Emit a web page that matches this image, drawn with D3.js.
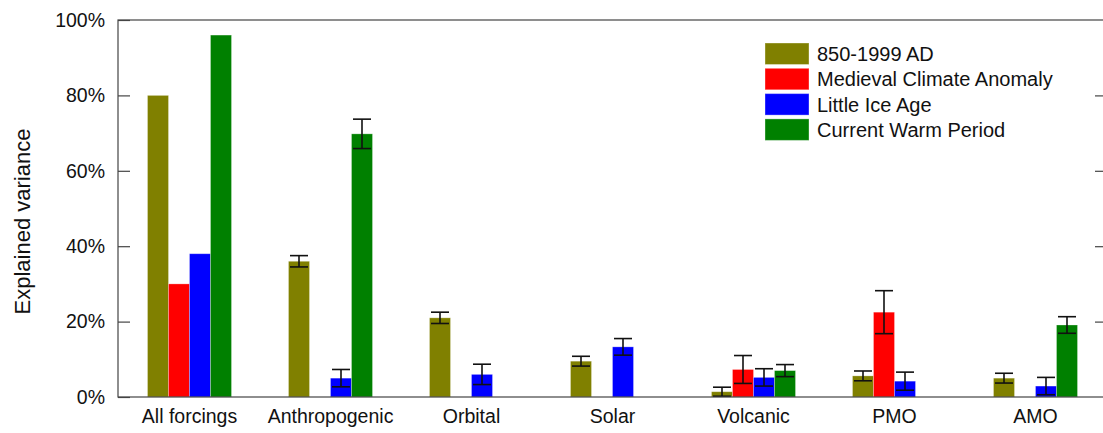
<!DOCTYPE html>
<html>
<head>
<meta charset="utf-8">
<script src="https://cdn.jsdelivr.net/npm/d3@7"></script>
<style>
  body { margin: 0; background: #fff; }
  svg { font-family: "Liberation Sans", Arial, sans-serif; }
</style>
</head>
<body>
<svg id="drawing_region"></svg>
<script>
// 値は図から目で読んだもの (null = 棒なし)
var categories = ['All forcings', 'Anthropogenic', 'Orbital', 'Solar', 'Volcanic', 'PMO', 'AMO'];
var seriesNames = ['850-1999 AD', 'Medieval Climate Anomaly', 'Little Ice Age', 'Current Warm Period'];
var seriesColors = ['#808000', '#ff0000', '#0000ff', '#008000'];

var fullPeriod  = [80, 36,   21,   9.5,  1.4, 5.6,  5.0];
var medieval    = [30, null, null, null, 7.3, 22.5, null];
var littleIce   = [38, 5.0,  6.0,  13.3, 5.2, 4.2,  2.9];
var currentWarm = [96, 69.8, null, null, 7.0, null, 19.1];

var fullPeriodErr  = [null, 1.5,  1.5,  1.3,  1.2, 1.3, 1.3];
var medievalErr    = [null, null, null, null, 3.7, 5.7, null];
var littleIceErr   = [null, 2.3,  2.7,  2.2,  2.3, 2.4, 2.3];
var currentWarmErr = [null, 3.9,  null, null, 1.6, null, 2.2];

var yTicks = [0, 20, 40, 60, 80, 100];

var values = [fullPeriod, medieval, littleIce, currentWarm];
var errors = [fullPeriodErr, medievalErr, littleIceErr, currentWarmErr];

var data = [];
categories.forEach((c, ci) => {
    seriesNames.forEach((s, si) => {
        if (values[si][ci] != null) {
            data.push({cat: c, series: s, value: values[si][ci], err: errors[si][ci], color: seriesColors[si]});
        }
    });
});

var config = {
    parent: '#drawing_region',
    width: 1103,
    height: 433,
    margin: {top: 20, right: -4, bottom: 36, left: 118}
};

var svg = d3.select(config.parent)
    .attr('width', config.width)
    .attr('height', config.height);

var inner_width = config.width - config.margin.left - config.margin.right;
var inner_height = config.height - config.margin.top - config.margin.bottom;

var chart = svg.append('g')
    .attr('transform', `translate(${config.margin.left}, ${config.margin.top})`);

var xscale = d3.scaleBand()
    .domain(categories)
    .range([1, inner_width - 1]);

var groupWidth = 84;
var xsub = d3.scaleBand()
    .domain(seriesNames)
    .range([0, groupWidth]);

var yscale = d3.scaleLinear()
    .domain([0, 100])
    .range([inner_height, 0]);

var groupLeft = c => xscale(c) + (xscale.bandwidth() - groupWidth) / 2;

// bars
chart.selectAll('rect.bar')
    .data(data)
    .enter()
    .append('rect')
    .attr('class', 'bar')
    .attr('x', d => groupLeft(d.cat) + xsub(d.series))
    .attr('y', d => yscale(d.value))
    .attr('width', xsub.bandwidth())
    .attr('height', d => yscale(0) - yscale(d.value))
    .attr('fill', d => d.color)
    .attr('stroke', '#fff')
    .attr('stroke-opacity', 0.35)
    .attr('stroke-width', 0.8);

// error bars
var errData = data.filter(d => d.err != null);
var errG = chart.selectAll('g.err')
    .data(errData)
    .enter()
    .append('g')
    .attr('class', 'err')
    .attr('stroke', '#111')
    .attr('stroke-width', 1.6);

var cx = d => groupLeft(d.cat) + xsub(d.series) + xsub.bandwidth() / 2;
var cap = 9;

errG.append('line')
    .attr('x1', cx).attr('x2', cx)
    .attr('y1', d => yscale(d.value + d.err))
    .attr('y2', d => yscale(Math.max(0, d.value - d.err)));
errG.append('line')
    .attr('x1', d => cx(d) - cap).attr('x2', d => cx(d) + cap)
    .attr('y1', d => yscale(d.value + d.err))
    .attr('y2', d => yscale(d.value + d.err));
errG.append('line')
    .attr('x1', d => cx(d) - cap).attr('x2', d => cx(d) + cap)
    .attr('y1', d => yscale(Math.max(0, d.value - d.err)))
    .attr('y2', d => yscale(Math.max(0, d.value - d.err)));

// frame
chart.append('rect')
    .attr('x', 0).attr('y', 0)
    .attr('width', inner_width).attr('height', inner_height)
    .attr('fill', 'none')
    .attr('stroke', '#444')
    .attr('stroke-width', 1.2);

// y axis (ticks inward)
var yaxis = d3.axisLeft(yscale)
    .tickValues(yTicks)
    .tickSize(-12)
    .tickPadding(13)
    .tickFormat(d => d + '%');

var yaxis_group = chart.append('g').call(yaxis);
yaxis_group.select('.domain').remove();
yaxis_group.selectAll('line').attr('stroke', '#444').attr('stroke-width', 1.2);
yaxis_group.selectAll('text')
    .attr('font-size', 19.5)
    .attr('fill', '#111')
    .style('font-family', '"Liberation Sans", Arial, sans-serif');

var yaxisR = d3.axisRight(yscale)
    .tickValues(yTicks.filter(t => t > 0 && t < 100))
    .tickSize(-12)
    .tickFormat('');
var yaxisR_group = chart.append('g')
    .attr('transform', `translate(${inner_width}, 0)`)
    .call(yaxisR);
yaxisR_group.select('.domain').remove();
yaxisR_group.selectAll('line').attr('stroke', '#444').attr('stroke-width', 1.2);

// x axis labels
var xaxis = d3.axisBottom(xscale)
    .tickSize(0)
    .tickPadding(12);
var xaxis_group = chart.append('g')
    .attr('transform', `translate(0, ${inner_height})`)
    .call(xaxis);
xaxis_group.select('.domain').remove();
xaxis_group.selectAll('text')
    .attr('font-size', 19.5)
    .attr('fill', '#111')
    .style('font-family', '"Liberation Sans", Arial, sans-serif');

// y title
svg.append('text')
    .attr('transform', `translate(30, ${config.margin.top + inner_height / 2 + 13}) rotate(-90)`)
    .attr('text-anchor', 'middle')
    .attr('font-size', 22)
    .attr('fill', '#111')
    .text('Explained variance');

// legend
var legend = svg.append('g')
    .attr('transform', 'translate(765, 43)');
var legendItems = legend.selectAll('g')
    .data(seriesNames)
    .enter()
    .append('g')
    .attr('transform', (d, i) => `translate(0, ${i * 25.3})`);
legendItems.append('rect')
    .attr('width', 44)
    .attr('height', 21.5)
    .attr('fill', (d, i) => seriesColors[i])
    .attr('stroke', '#fff')
    .attr('stroke-opacity', 0.35);
legendItems.append('text')
    .attr('x', 52)
    .attr('y', 11)
    .attr('dy', '0.36em')
    .attr('font-size', 20)
    .attr('fill', '#111')
    .text(d => d);
</script>
</body>
</html>
